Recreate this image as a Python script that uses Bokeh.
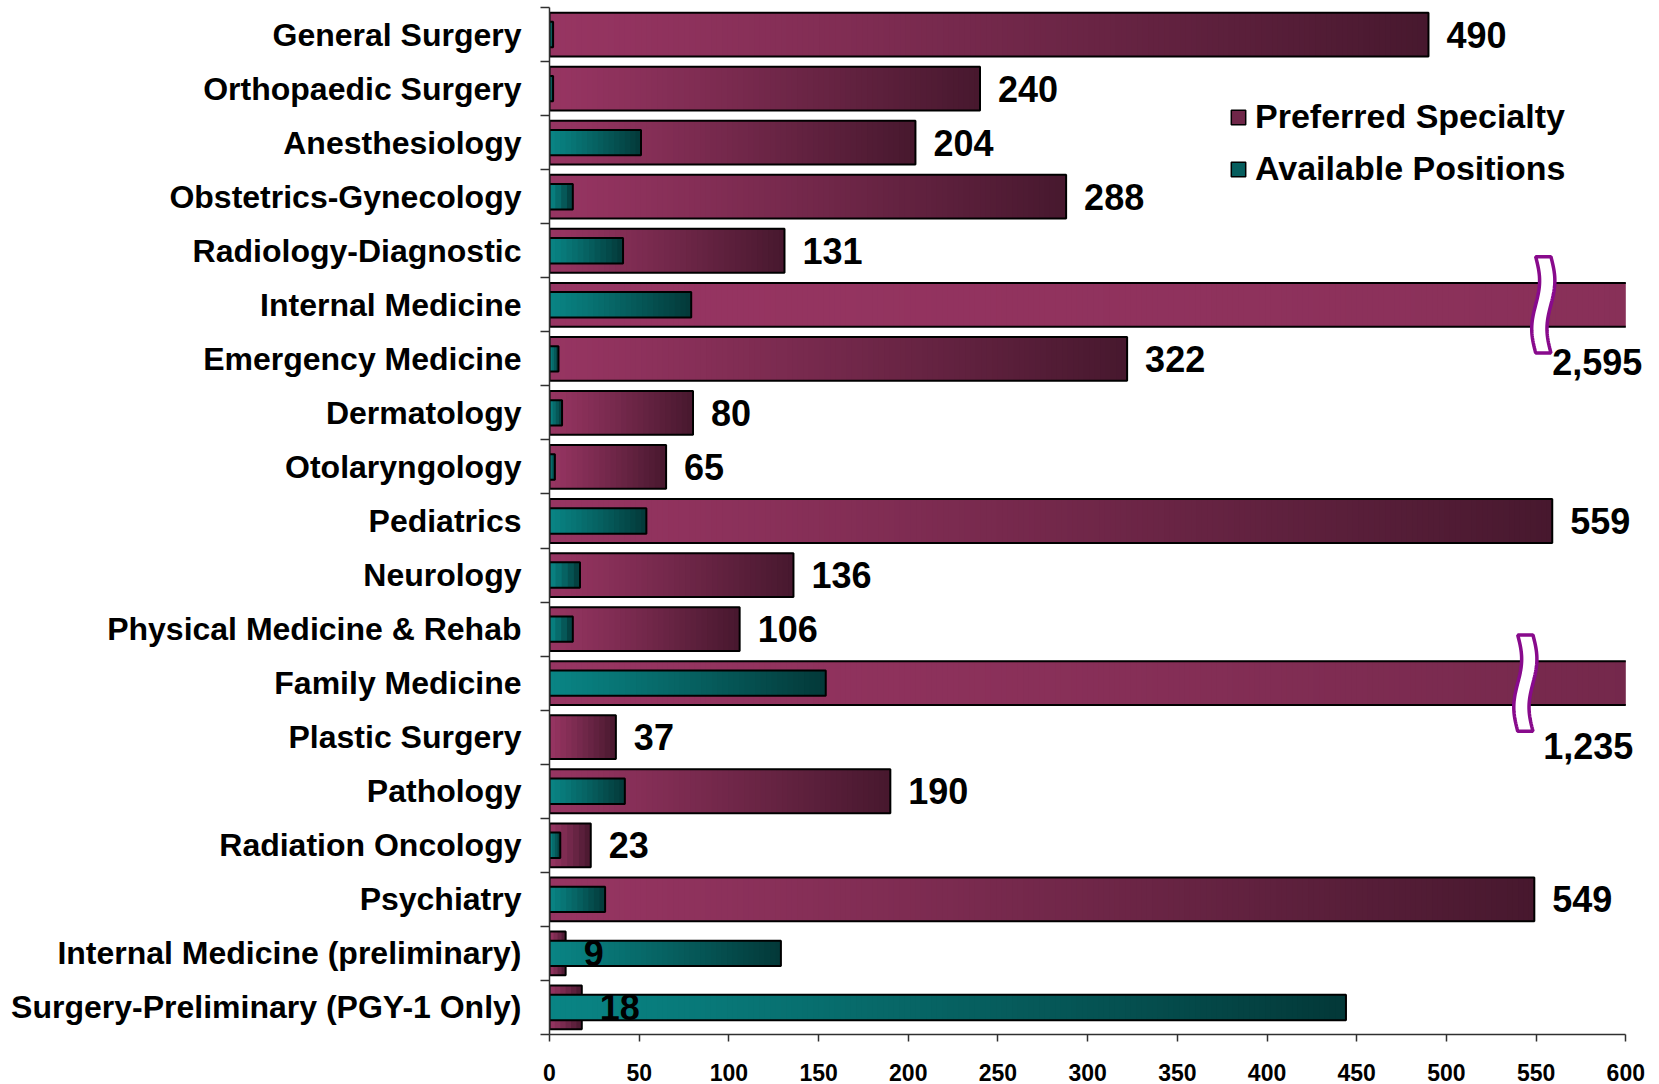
import numpy as np
from bokeh.plotting import figure
from bokeh.models import (ColumnDataSource, Range1d, FixedTicker, LabelSet,
                          Legend, LegendItem)
from bokeh.core.properties import value
from bokeh.embed import file_html
from bokeh.resources import INLINE

# ---------------- data ----------------
specialties = [
    "General Surgery", "Orthopaedic Surgery", "Anesthesiology",
    "Obstetrics-Gynecology", "Radiology-Diagnostic", "Internal Medicine",
    "Emergency Medicine", "Dermatology", "Otolaryngology", "Pediatrics",
    "Neurology", "Physical Medicine & Rehab", "Family Medicine",
    "Plastic Surgery", "Pathology", "Radiation Oncology", "Psychiatry",
    "Internal Medicine (preliminary)", "Surgery-Preliminary (PGY-1 Only)",
]
preferred = [490, 240, 204, 288, 131, 2595, 322, 80, 65, 559, 136, 106,
             1235, 37, 190, 23, 549, 9, 18]
available = [2, 2, 51, 13, 41, 79, 5, 7, 3, 54, 17, 13, 154, 0, 42, 6, 31,
             129, 444]
x_ticks = [0, 50, 100, 150, 200, 250, 300, 350, 400, 450, 500, 550, 600]
series_names = ["Preferred Specialty", "Available Positions"]

# ---------------- style ----------------
X_MAX = 600                       # axis end
FRAME_LEFT, AXIS_END_PX, W = 549, 1625.3, 1659
X_VIEW = X_MAX * (W - FRAME_LEFT) / (AXIS_END_PX - FRAME_LEFT)  # room for labels
FONT = "Liberation Sans"
PREF_LIGHT, PREF_DARK = (0x97, 0x35, 0x62), (0x47, 0x18, 0x2e)
AVAIL_LIGHT, AVAIL_DARK = (0x09, 0x84, 0x84), (0x03, 0x38, 0x38)
PREF_H, AVAIL_H = 0.81, 0.47
# axis-break marks: x position of the mark, and label shift (dx units, dy bands)
BREAK_X = {5: 554, 12: 544}
BREAK_LABEL_SHIFT = {5: (5, 1.06), 12: (10, 1.16)}
BREAK_COLOR = "#880a8c"

ypos = list(range(len(specialties)))


def hexcol(rgb):
    return "#%02x%02x%02x" % rgb


def gradient(values, height, light, dark):
    L, R, T, B, C = [], [], [], [], []
    for v, y in zip(values, ypos):
        if v <= 0:
            continue
        vis = min(v, X_MAX)
        n = max(4, int(vis / 3))
        edges = np.linspace(0, vis, n + 1)
        step = edges[1] - edges[0]
        for a, b in zip(edges[:-1], edges[1:]):
            t = ((a + b) / 2) / v
            t = min(1.0, t) ** 1.15
            col = tuple(int(round(l + (d - l) * t)) for l, d in zip(light, dark))
            L.append(a)
            R.append(min(b + step * 0.7, vis))
            T.append(y - height / 2)
            B.append(y + height / 2)
            C.append(hexcol(col))
    return ColumnDataSource(dict(left=L, right=R, top=T, bottom=B, color=C))


def outline(values, height):
    L, R, T, B = [], [], [], []
    for v, y in zip(values, ypos):
        if v <= 0 or v > X_MAX:
            continue
        L.append(0)
        R.append(v)
        T.append(y - height / 2)
        B.append(y + height / 2)
    return ColumnDataSource(dict(left=L, right=R, top=T, bottom=B))


def open_outline(values, height):
    xs, ys = [], []
    for v, y in zip(values, ypos):
        if v > X_MAX:
            xs.append([X_MAX, 0, 0, X_MAX])
            ys.append([y - height / 2, y - height / 2, y + height / 2, y + height / 2])
    return xs, ys


p = figure(width=W, height=1084, output_backend="svg", toolbar_location=None,
           x_range=Range1d(0, X_VIEW), y_range=Range1d(len(specialties) - 0.5, -0.5),
           min_border_left=FRAME_LEFT, min_border_right=0, min_border_top=7,
           min_border_bottom=50)
p.outline_line_color = None
p.xgrid.visible = False
p.ygrid.visible = False
p.background_fill_color = "white"

# preferred specialty bars (gradient + outline)
p.quad(left="left", right="right", top="top", bottom="bottom", fill_color="color",
       line_color=None, source=gradient(preferred, PREF_H, PREF_LIGHT, PREF_DARK))
p.quad(left="left", right="right", top="top", bottom="bottom", fill_color=None,
       line_color="black", line_width=2, source=outline(preferred, PREF_H))
oxs, oys = open_outline(preferred, PREF_H)
p.multi_line(oxs, oys, line_color="black", line_width=2, line_join="miter")

# available positions bars (gradient + outline)
p.quad(left="left", right="right", top="top", bottom="bottom", fill_color="color",
       line_color=None, source=gradient(available, AVAIL_H, AVAIL_LIGHT, AVAIL_DARK))
p.quad(left="left", right="right", top="top", bottom="bottom", fill_color=None,
       line_color="black", line_width=2, source=outline(available, AVAIL_H))

# axis-break marks for the bars running past the axis
bxs, bys = [], []
for i, bx in BREAK_X.items():
    s = np.linspace(0, 1, 40)
    H, w, A = 1.78, 8.5, 2.2
    yy = ypos[i] - H / 2 + s * H
    xl = bx - w / 2 + A * np.sin(2 * np.pi * s)
    xr = xl + w
    bxs.append(list(xl) + list(xr[::-1]))
    bys.append(list(yy) + list(yy[::-1]))
p.patches(bxs, bys, fill_color="white", line_color=BREAK_COLOR, line_width=3.5)

# value labels
in_x, in_y, in_t = [], [], []
ov_x, ov_y, ov_t = [], [], []
for i, v in enumerate(preferred):
    if v <= X_MAX:
        in_x.append(v); in_y.append(ypos[i]); in_t.append(f"{v:,}")
    else:
        dx, dy = BREAK_LABEL_SHIFT[i]
        ov_x.append(BREAK_X[i] + dx); ov_y.append(ypos[i] + dy); ov_t.append(f"{v:,}")

for src, xo in ((ColumnDataSource(dict(x=in_x, y=in_y, t=in_t)), 18),
                (ColumnDataSource(dict(x=ov_x, y=ov_y, t=ov_t)), 0)):
    p.add_layout(LabelSet(x="x", y="y", text="t", source=src, x_offset=xo,
                          text_font=value(FONT), text_font_style="bold",
                          text_font_size="36px", text_color="black",
                          text_align="left", text_baseline="middle"))

# axes
xa = p.xaxis[0]
xa.ticker = FixedTicker(ticks=x_ticks, minor_ticks=[])
xa.bounds = (0, X_MAX)
xa.axis_line_color = "#303030"
xa.axis_line_width = 1.5
xa.major_tick_line_color = "#303030"
xa.major_tick_line_width = 1.5
xa.major_tick_out = 7
xa.major_tick_in = 0
xa.minor_tick_line_color = None
xa.major_label_text_font = FONT
xa.major_label_text_font_style = "bold"
xa.major_label_text_font_size = "23px"
xa.major_label_text_color = "black"
xa.major_label_standoff = 22

ya = p.yaxis[0]
ya.ticker = FixedTicker(ticks=ypos, minor_ticks=[i - 0.5 for i in range(len(specialties) + 1)])
ya.major_label_overrides = {i: name for i, name in zip(ypos, specialties)}
ya.axis_line_color = "#303030"
ya.axis_line_width = 1.5
ya.major_tick_line_color = None
ya.major_tick_out = 0
ya.major_tick_in = 0
ya.minor_tick_line_color = "#303030"
ya.minor_tick_line_width = 1.5
ya.minor_tick_out = 9
ya.minor_tick_in = 0
ya.major_label_text_font = FONT
ya.major_label_text_font_style = "bold"
ya.major_label_text_font_size = "32px"
ya.major_label_text_color = "black"
ya.major_label_standoff = 19

# legend
mid_p = hexcol(tuple((a + b) // 2 for a, b in zip(PREF_LIGHT, PREF_DARK)))
mid_a = hexcol(tuple((a + b) // 2 for a, b in zip(AVAIL_LIGHT, AVAIL_DARK)))
nan = float("nan")
r1 = p.quad(left=[nan], right=[nan], top=[nan], bottom=[nan], fill_color=mid_p,
            line_color="black", line_width=1.5)
r2 = p.quad(left=[nan], right=[nan], top=[nan], bottom=[nan], fill_color=mid_a,
            line_color="black", line_width=1.5)
legend = Legend(items=[LegendItem(label=series_names[0], renderers=[r1]),
                       LegendItem(label=series_names[1], renderers=[r2])],
                location=(680, 846), glyph_width=18, glyph_height=18,
                label_text_font=FONT, label_text_font_style="bold",
                label_text_font_size="34px", label_text_color="black",
                label_standoff=8, spacing=13, padding=0, margin=0,
                border_line_color=None, background_fill_alpha=0)
p.add_layout(legend)

open("out.html", "w").write(file_html(p, INLINE))
